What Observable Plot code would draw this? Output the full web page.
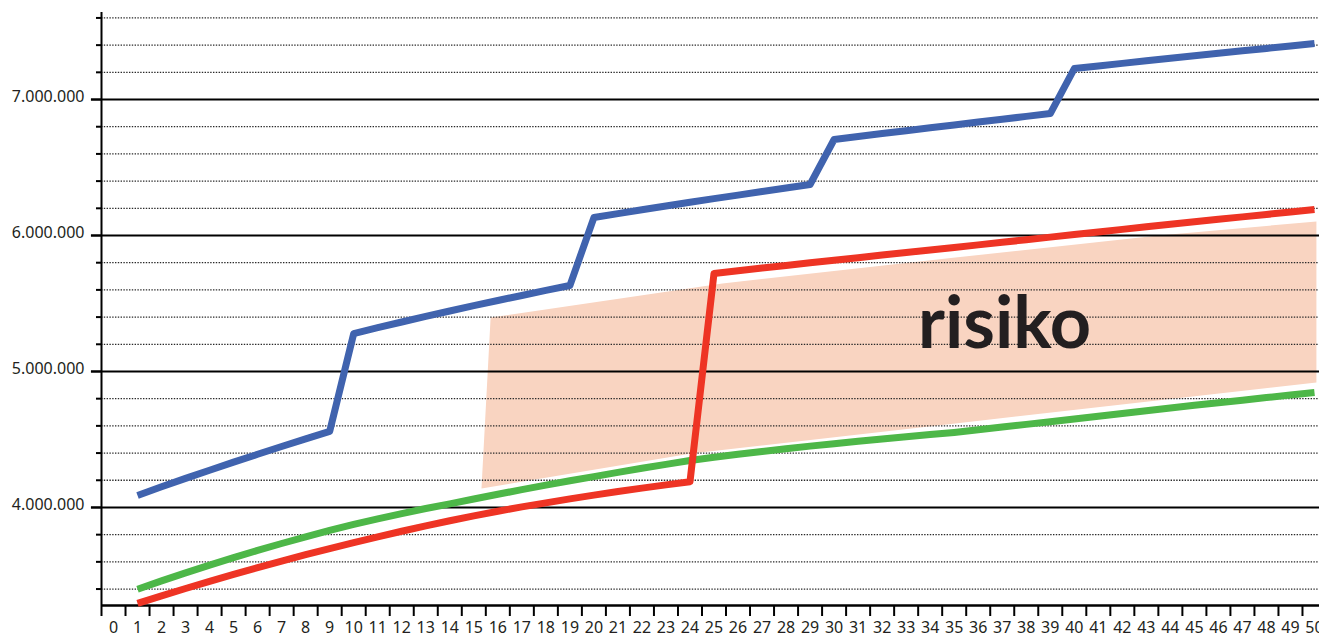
<!DOCTYPE html>
<html>
<head>
<meta charset="utf-8">
<script src="https://cdn.jsdelivr.net/npm/d3@7"></script>
<script src="https://cdn.jsdelivr.net/npm/@observablehq/plot@0.6"></script>
<style>
  html, body { margin: 0; padding: 0; background: #fff; overflow: hidden; }
  #chart svg { display: block; }
</style>
</head>
<body>
<div id="chart"></div>
<script>
// ---- data ----
const years = d3.range(1, 51);
const xLabels = d3.range(0, 51);

const blueValues = [
  4088000, 4152000, 4214000, 4274000, 4333000, 4391000, 4448000, 4504000, 4559000,
  5279000, 5322000, 5364000, 5405000, 5445000, 5484000, 5522000, 5559000, 5596000, 5632000,
  6132000, 6161000, 6189000, 6217000, 6244000, 6271000, 6297000, 6323000, 6349000, 6375000,
  6706000, 6728000, 6750000, 6771000, 6792000, 6813000, 6834000, 6855000, 6876000, 6897000,
  7228000, 7247000, 7266000, 7285000, 7304000, 7322000, 7340000, 7358000, 7376000, 7394000, 7412000
];

const redValues = [
  3294000, 3350000, 3404000, 3457000, 3508000, 3558000, 3606000, 3653000, 3698000,
  3742000, 3784000, 3825000, 3864000, 3902000, 3938000, 3972000, 4004000, 4034000, 4063000,
  4091000, 4117000, 4142000, 4166000, 4189000,
  5721000, 5741000, 5761000, 5780000, 5799000, 5818000, 5837000, 5856000, 5875000, 5894000, 5912000,
  5931000, 5950000, 5969000, 5988000, 6007000, 6026000, 6045000, 6064000, 6083000, 6101000,
  6119000, 6137000, 6155000, 6173000, 6191000
];

const greenValues = [
  3398000, 3460000, 3519000, 3576000, 3631000, 3684000, 3735000, 3784000, 3831000,
  3875000, 3916000, 3955000, 3992000, 4026000, 4062000, 4097000, 4131000, 4164000, 4196000,
  4227000, 4258000, 4288000, 4317000, 4345000, 4369000, 4391000, 4412000, 4432000, 4451000,
  4469000, 4487000, 4504000, 4520000, 4536000, 4552000, 4571000, 4591000, 4611000, 4631000,
  4651000, 4671000, 4691000, 4711000, 4731000, 4751000, 4770000, 4789000, 4808000, 4827000, 4846000
];

// risk band outline (year, value), clockwise from top-left
const riskX = [15.70, 25.35, 35.05, 43.51, 50.08, 50.08, 35.05, 24.06, 15.32];
const riskY = [5397000, 5647000, 5838000, 6000000, 6103000, 4919000, 4618000, 4397000, 4140000];
const riskLabel = {x: 37.1, y: 5343000, text: "risiko"};

const majorTicks = [4000000, 5000000, 6000000, 7000000];
const minorTicks = [3400000, 3600000, 3800000, 4200000, 4400000, 4600000, 4800000,
  5200000, 5400000, 5600000, 5800000, 6200000, 6400000, 6600000, 6800000,
  7200000, 7400000, 7600000];
const yLabels = ["4.000.000", "5.000.000", "6.000.000", "7.000.000"];

// ---- build tables ----
const blue = years.map((t, i) => ({t, v: blueValues[i]}));
const red = years.map((t, i) => ({t, v: redValues[i]}));
const green = years.map((t, i) => ({t, v: greenValues[i]}));
const risk = riskX.map((x, i) => ({x, y: riskY[i]}));
const yLab = majorTicks.map((v, i) => ({v, label: yLabels[i]}));
const xBoundaries = d3.range(-0.5, 51, 1);

const yMin = 3279000, yMax = 7640000;

const lineStyle = {strokeWidth: 7, strokeLinecap: "butt", strokeLinejoin: "round"};

const chart = Plot.plot({
  width: 1319,
  height: 638,
  marginLeft: 101,
  marginRight: 0,
  marginTop: 12,
  marginBottom: 33,
  style: {fontFamily: "'Noto Sans', sans-serif", fontSize: "16px", color: "#231f20", background: "#fff"},
  x: {type: "linear", domain: [-0.5, 50.5], range: [101, 1326]},
  y: {type: "linear", domain: [yMin, yMax]},
  marks: [
    // risk band
    Plot.line(risk, {x: "x", y: "y", fill: "#f9d4c1", stroke: "none", curve: "linear-closed"}),
    // gridlines
    Plot.ruleY(minorTicks, {stroke: "#2a2a2a", strokeWidth: 1.3, strokeDasharray: "1.4,1.4"}),
    Plot.ruleY(majorTicks, {stroke: "#000", strokeWidth: 2, x1: -0.92, x2: 50.5}),
    // axes
    Plot.axisY(minorTicks, {tickSize: 5, tickFormat: () => "", strokeWidth: 2, label: null, stroke: "#000"}),
    Plot.axisY(majorTicks, {tickSize: 10, tickFormat: () => "", strokeWidth: 2, label: null, stroke: "#000"}),
    Plot.ruleX([-0.5], {y1: yMin, y2: yMax, stroke: "#000", strokeWidth: 2}),
    Plot.ruleY([yMin], {stroke: "#000", strokeWidth: 2.5}),
    Plot.axisX(xBoundaries, {tickSize: 11, tickFormat: () => "", strokeWidth: 2, label: null, stroke: "#000"}),
    Plot.axisX(xLabels, {tickSize: 0, tickPadding: 16, fontSize: 16, label: null, fill: "#231f20"}),
    Plot.text(yLab, {y: "v", text: "label", frameAnchor: "left", dx: -17, dy: -3, textAnchor: "end", fontSize: 16, fill: "#231f20"}),
    // series
    Plot.line(green, {x: "t", y: "v", stroke: "#4db748", ...lineStyle}),
    Plot.line(red, {x: "t", y: "v", stroke: "#ee3424", ...lineStyle}),
    Plot.line(blue, {x: "t", y: "v", stroke: "#4063ae", ...lineStyle}),
    // label
    Plot.text([riskLabel], {x: "x", y: "y", text: "text", fontSize: 72, fontWeight: 700, fontFamily: "Lato, sans-serif", fill: "#231f20"})
  ]
});

document.getElementById("chart").appendChild(chart);
</script>
</body>
</html>
